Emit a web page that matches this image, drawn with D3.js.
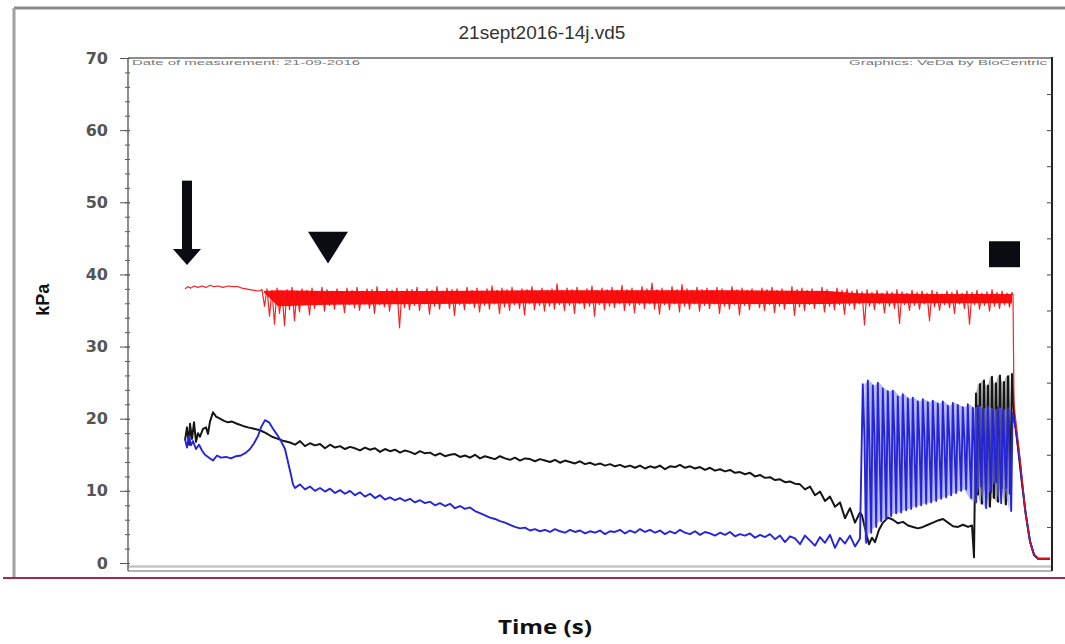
<!DOCTYPE html>
<html>
<head>
<meta charset="utf-8">
<script src="https://cdn.jsdelivr.net/npm/d3@7"></script>
<style>
  body { margin: 0; background: #fff; }
  svg { display: block; }
</style>
</head>
<body>
<div id="chart"></div>
<script>
// ---- data (time in s, pressure in kPa) ----
const chartTitle = '21sept2016-14j.vd5';
const noteLeft = 'Date of measurement: 21-09-2016';
const noteRight = 'Graphics: VeDa by BioCentric';
const yLabel = 'kPa';
const xLabel = 'Time (s)';
const yTicksMajor = [0, 10, 20, 30, 40, 50, 60, 70];

// red trace: quiet start, noisy plateau (sampled every 2.5 s), fall at the end
const redStart = [[57, 38.0], [60, 38.3], [63, 38.1], [66, 38.4], [70, 38.2], [74, 38.4], [78, 38.2], [82, 38.5],
  [86, 38.3], [90, 38.4], [95, 38.2], [100, 38.4], [105, 38.3], [110, 38.3], [114, 38.1], [118, 38.0],
  [122, 37.9], [126, 37.8], [130, 37.7], [133, 37.8]];
const redNoiseT0 = 134, redNoiseDt = 2.5;
const redNoise = [
  37.9, 35.6, 38.0, 34.2, 37.8, 33.1, 38.1, 34.6, 37.6, 32.9, 37.9, 35.1, 38.2, 33.6, 37.7, 34.8, 38.0, 35.9, 37.8, 34.4,
  38.1, 35.3, 37.6, 36.0, 38.2, 34.9, 37.9, 35.7, 37.7, 35.2, 38.0, 36.1, 37.5, 34.7, 38.1, 35.8, 37.8, 35.4, 38.2, 35.0,
  37.7, 35.9, 38.0, 35.3, 37.9, 34.6, 38.3, 35.8, 37.6, 35.5, 38.0, 34.9, 37.8, 36.0, 38.1, 32.6, 37.7, 35.4, 38.0, 35.1,
  37.9, 35.7, 38.2, 35.0, 37.6, 35.9, 38.0, 34.5, 37.8, 35.6, 38.3, 35.2, 37.7, 36.0, 38.1, 35.3, 37.9, 34.3, 38.0, 35.8,
  37.6, 35.1, 38.2, 35.9, 37.8, 35.4, 38.1, 34.8, 37.7, 35.7, 38.0, 35.2, 38.4, 35.9, 37.8, 34.6, 38.1, 35.5, 37.9, 35.0,
  38.2, 35.8, 37.7, 35.3, 38.0, 34.4, 37.9, 35.9, 38.3, 35.1, 37.6, 35.7, 38.1, 34.9, 37.8, 35.6, 38.0, 35.2, 38.7, 35.8,
  37.8, 35.0, 38.1, 35.7, 37.9, 34.6, 38.2, 35.9, 37.7, 35.3, 38.0, 35.6, 38.4, 34.2, 37.8, 35.8, 38.1, 35.1, 37.9, 35.6,
  38.2, 35.4, 37.8, 35.9, 38.5, 35.0, 37.9, 35.7, 38.1, 34.7, 37.7, 35.8, 38.3, 35.3, 38.0, 35.9, 38.8, 35.2, 37.9, 34.5,
  38.1, 35.8, 37.8, 35.1, 38.3, 35.9, 37.9, 34.8, 38.6, 35.6, 38.0, 35.2, 37.8, 35.9, 38.2, 34.9, 37.9, 35.7, 38.1, 35.3,
  37.8, 35.9, 38.2, 34.6, 38.0, 35.6, 37.7, 35.2, 38.3, 35.8, 37.9, 34.4, 38.1, 35.7, 37.8, 35.1, 38.0, 35.9, 37.7, 35.4,
  38.1, 35.0, 37.9, 35.8, 38.2, 34.7, 37.8, 35.6, 38.0, 35.2, 37.7, 35.9, 38.3, 34.3, 37.9, 35.5, 38.1, 35.0, 37.8, 35.8,
  38.0, 35.3, 37.7, 35.9, 38.2, 34.8, 37.9, 35.6, 37.6, 35.1, 38.1, 35.8, 37.8, 34.5, 38.0, 35.7, 37.7, 35.2, 37.9, 35.9,
  37.6, 33.0, 37.9, 35.6, 37.5, 35.1, 37.8, 35.9, 37.4, 34.7, 37.7, 35.6, 37.5, 35.3, 37.9, 33.2, 37.6, 35.8, 37.4, 35.0,
  37.8, 35.7, 37.5, 35.2, 37.7, 35.9, 37.4, 33.6, 37.8, 35.5, 37.6, 35.0, 37.3, 35.8, 37.7, 35.4, 37.5, 34.6, 37.8, 35.9,
  37.4, 35.3, 37.7, 33.1, 37.5, 35.8, 37.8, 35.2, 37.4, 35.7, 37.6, 34.9, 37.9, 35.6, 37.5, 35.3, 37.7, 35.8, 37.4, 35.5,
  37.5];
// dense core of the red noise band (where the trace is solid red)
const redBandTime = [136, 150, 200, 300, 400, 500, 600, 700, 730, 800, 884];
const redBandTop = [37.7, 37.8, 37.7, 37.7, 37.8, 37.8, 37.8, 37.7, 37.4, 37.3, 37.3];
const redBandBottom = [37.5, 35.6, 35.8, 35.9, 36.0, 36.0, 35.9, 35.9, 36.0, 36.0, 36.0];
const redTail = [[885, 37.2], [886, 22.0], [892, 14.5], [897, 7.5], [902, 3.0], [906, 1.2], [910, 0.6], [922, 0.6]];

// black trace
const blackStart = [[57, 17.0], [59, 18.8], [61, 16.4], [62, 19.3], [64, 17.2], [66, 19.5], [68, 16.8], [70, 18.0],
  [72, 17.5], [75, 18.6], [78, 18.8], [80, 17.9], [82, 19.6], [85, 20.9], [88, 20.3], [92, 20.0], [96, 19.7],
  [100, 19.5], [104, 19.6], [109, 19.3], [115, 19.0], [120, 18.8], [126, 18.6], [132, 18.4], [138, 18.0],
  [144, 17.5], [150, 17.2], [156, 16.9]];
const blackNoiseT0 = 162, blackNoiseDt = 5;
const blackNoise = [
  16.7, 16.4, 16.9, 16.2, 16.6, 16.3, 16.5, 15.9, 16.4, 16.0,
  16.2, 15.8, 16.1, 15.9, 15.6, 16.0, 15.7, 15.9, 15.4, 15.8,
  15.5, 15.7, 15.3, 15.6, 15.4, 15.1, 15.5, 15.2, 15.3, 14.9,
  15.2, 14.8, 15.0, 15.1, 14.7, 14.9, 14.6, 15.0, 14.5, 14.8,
  14.6, 14.4, 14.8, 14.5, 14.3, 14.6, 14.2, 14.5, 14.4, 14.1,
  14.4, 14.2, 14.0, 14.3, 13.9, 14.2, 14.0, 13.8, 14.1, 13.7,
  13.9, 13.6, 13.8, 13.5, 13.7, 13.4, 13.6, 13.3, 13.5, 13.2,
  13.5, 13.1, 13.4, 13.2, 13.5, 13.0, 13.4, 13.3, 13.6, 13.2,
  13.4, 13.1, 13.3, 12.9, 13.2, 12.8, 13.0, 12.7, 12.9, 12.5,
  12.6, 12.3, 12.5, 12.0, 12.2, 11.8, 11.9, 11.5, 11.6, 11.2,
  11.3, 11.0, 10.9, 10.2, 10.6, 9.4, 9.9, 8.6, 9.2, 7.8, 8.4, 6.2, 7.6, 5.6, 7.0];
const blackLate = [[734, 6.6], [738, 4.2], [741, 2.6], [744, 3.5], [747, 2.9], [751, 4.6], [755, 5.6], [760, 6.3],
  [765, 6.0], [770, 5.5], [775, 5.7], [780, 5.2], [785, 5.0], [790, 4.8], [795, 5.0], [800, 5.3], [805, 5.6],
  [810, 5.9], [815, 6.1], [820, 5.6], [825, 5.1], [830, 5.0], [835, 5.3], [840, 5.0], [844, 5.2], [846, 0.8]];
const blackOscT0 = 848, blackOscDt = 2;
const blackOsc = [23.5, 9.5, 24.8, 8.2, 25.3, 10.1, 24.6, 7.8, 25.8, 9.0, 24.9, 8.5, 26.0, 10.4, 25.1, 8.1, 25.9, 9.6, 26.2];
const blackTail = [[886, 20.5], [890, 16.0], [894, 11.0], [898, 6.5], [902, 3.0], [906, 1.1], [910, 0.6], [922, 0.6]];

// blue trace
const blueStart = [[57, 17.2], [59, 16.0], [61, 17.6], [63, 16.3], [65, 16.9], [68, 15.8], [71, 16.4], [74, 15.6],
  [77, 15.0], [81, 14.6], [85, 14.2], [89, 14.9], [93, 14.6], [98, 14.7], [103, 14.5], [108, 14.8], [113, 14.9],
  [118, 15.3], [122, 15.8], [126, 16.6], [130, 17.6], [133, 18.8], [137, 19.8], [141, 19.5], [145, 18.6],
  [149, 17.8], [153, 16.9], [157, 15.8], [160, 14.0], [163, 12.2], [165, 10.9]];
const blueNoiseT0 = 167, blueNoiseDt = 5;
const blueNoise = [
  10.4, 10.9, 10.2, 10.6, 10.0, 10.4, 9.9, 10.3, 9.7, 10.1,
  9.6, 10.0, 9.4, 9.8, 9.2, 9.6, 9.0, 9.4, 8.8, 9.1,
  8.7, 9.0, 8.6, 8.9, 8.4, 8.7, 8.3, 8.5, 8.0, 8.3,
  7.9, 8.2, 7.6, 7.9, 7.5, 7.7, 7.2, 6.9, 6.6, 6.3,
  6.1, 5.8, 5.6, 5.3, 5.0, 4.8, 4.9, 4.5, 4.7, 4.4,
  4.6, 4.3, 4.7, 4.4, 4.2, 4.6, 4.3, 4.5, 4.1, 4.4,
  4.2, 4.5, 4.0, 4.4, 4.3, 4.6, 4.1, 4.5, 4.2, 4.7,
  4.3, 4.6, 4.2, 4.5, 4.0, 4.4, 4.1, 4.6, 4.2, 4.0,
  4.4, 3.9, 4.3, 4.1, 3.8, 4.2, 3.9, 4.3, 3.7, 4.0,
  3.8, 4.1, 3.5, 3.9, 3.6, 4.0, 3.3, 3.8, 2.9, 3.7,
  3.4, 2.6, 3.8, 3.1, 2.4, 3.6, 2.8, 3.9, 2.1, 3.5,
  2.7, 3.8, 2.3, 3.4];
// pumping cycles: peak, plateau and trough of each beat
const blueCycleT0 = 734, blueCycleDt = 5;
const blueHigh = [24.8, 25.3, 24.6, 25.0, 24.2, 23.8, 23.9, 23.1, 23.4, 22.8, 22.9, 22.4, 22.7, 22.3, 22.5,
  22.1, 22.4, 21.8, 22.2, 21.9, 21.6, 22.0, 21.5, 21.8, 21.4, 21.7, 21.2, 21.6, 21.3, 21.5];
const blueMid = [17.5, 16.2, 18.0, 15.8, 17.2, 16.5, 17.8, 15.9, 16.8, 17.3, 15.6, 16.9, 17.6, 16.1, 17.0,
  15.7, 16.6, 17.4, 16.0, 16.8, 17.1, 15.9, 16.4, 17.2, 16.2, 15.8, 16.7, 17.0, 16.3, 16.9];
const blueLow = [2.8, 4.2, 5.0, 5.8, 6.1, 6.5, 6.9, 7.0, 7.3, 7.5, 7.8, 8.0, 8.2, 8.4, 8.6,
  8.9, 9.1, 9.4, 9.7, 10.0, 10.2, 9.0, 8.4, 10.6, 7.6, 9.8, 11.2, 8.3, 10.4, 7.2];
const blueTail = [[884.5, 20.8], [888, 18.5], [892, 14.0], [897, 7.5], [902, 3.0], [906, 1.2], [910, 0.6], [922, 0.6]];

// event markers: [time, kPa]
const arrowMark = { t: 59, top: 53, tip: 41.3 };
const triangleMark = { t: 200, top: 45.9, tip: 41.5 };
const squareMark = { t0: 861, t1: 892, top: 44.6, bottom: 41.0 };

// ---- build series ----
const sampled = (vals, t0, dt) => vals.map((v, i) => [t0 + i * dt, v]);
const redSeries = redStart.concat(sampled(redNoise, redNoiseT0, redNoiseDt), redTail);
const redBand = redBandTime.map((t, i) => ({ t, top: redBandTop[i], bottom: redBandBottom[i] }));
const blackOscPts = sampled(blackOsc, blackOscT0, blackOscDt);
const blackSeries = blackStart.concat(sampled(blackNoise, blackNoiseT0, blackNoiseDt), blackLate, blackOscPts, blackTail);
// swing range of the black beats (peak with the trough that follows)
const blackBand = blackOscPts.slice(0, -1).map((p, i) => ({
  t: p[0], top: Math.max(p[1], blackOscPts[i + 1][1]), bottom: Math.min(p[1], blackOscPts[i + 1][1]),
}));
const blueCycles = [];
blueHigh.forEach((h, i) => {
  const t = blueCycleT0 + i * blueCycleDt;
  blueCycles.push([t + 0.8, h], [t + 2.4, blueMid[i]], [t + 4.2, blueLow[i]]);
});
const blueBand = blueHigh.map((h, i) => ({ t: blueCycleT0 + i * blueCycleDt + 2.4, top: h, bottom: blueLow[i] }));
const blueSeries = blueStart.concat(sampled(blueNoise, blueNoiseT0, blueNoiseDt), blueCycles, blueTail);

// ---- layout ----
const width = 1065, height = 644;
const plot = { left: 128, right: 1052, top: 58, bottom: 571 };

const svg = d3.select('#chart').append('svg')
  .attr('width', width).attr('height', height)
  .style('font-family', '"Liberation Sans", Arial, sans-serif');

const x = d3.scaleLinear().domain([0, 924]).range([plot.left, plot.right]);
const y = d3.scaleLinear().domain([0, 70]).range([563, plot.top]);

// outer frame of the screenshot
svg.append('line').attr('x1', 14).attr('x2', width).attr('y1', 8).attr('y2', 8)
  .attr('stroke', '#8a8a8a').attr('stroke-width', 3);
svg.append('line').attr('x1', 14).attr('x2', 14).attr('y1', 8).attr('y2', 578)
  .attr('stroke', '#a0a0a0').attr('stroke-width', 3);

svg.append('text')
  .attr('x', 542).attr('y', 39)
  .attr('text-anchor', 'middle')
  .attr('font-size', 19).attr('fill', '#333')
  .text(chartTitle);

// plot box
svg.append('line').attr('x1', plot.left).attr('x2', plot.right).attr('y1', plot.top).attr('y2', plot.top)
  .attr('stroke', '#666').attr('stroke-width', 1.5);
svg.append('line').attr('x1', plot.left).attr('x2', plot.right).attr('y1', y(0) + 3.5).attr('y2', y(0) + 3.5)
  .attr('stroke', '#c4c4c4').attr('stroke-width', 2.5);
svg.append('line').attr('x1', plot.left).attr('x2', plot.right).attr('y1', plot.bottom).attr('y2', plot.bottom)
  .attr('stroke', '#999').attr('stroke-width', 1.5);
svg.append('line').attr('x1', plot.right).attr('x2', plot.right).attr('y1', plot.top - 1).attr('y2', plot.bottom)
  .attr('stroke', '#222').attr('stroke-width', 2);

svg.append('text')
  .attr('x', 132).attr('y', 65)
  .attr('font-size', 8).attr('fill', '#777')
  .attr('textLength', 228).attr('lengthAdjust', 'spacingAndGlyphs')
  .text(noteLeft);
svg.append('text')
  .attr('x', 849).attr('y', 65)
  .attr('font-size', 8).attr('fill', '#777')
  .attr('textLength', 198).attr('lengthAdjust', 'spacingAndGlyphs')
  .text(noteRight);

// left axis
const axisG = svg.append('g').attr('transform', `translate(${plot.left + 2},0)`);
axisG.append('g')
  .call(d3.axisLeft(y).tickValues(d3.range(0, 71, 2)).tickSize(5).tickFormat(''))
  .call(g => g.select('.domain').remove())
  .selectAll('line').attr('stroke', '#555');
axisG.append('g')
  .call(d3.axisLeft(y).tickValues(yTicksMajor).tickSize(10).tickPadding(12).tickFormat(d3.format('d')))
  .call(g => g.select('.domain').remove())
  .call(g => g.selectAll('line').attr('stroke', '#555'))
  .call(g => g.selectAll('text')
    .attr('font-family', '"DejaVu Sans", sans-serif')
    .attr('font-weight', 'bold').attr('font-size', 16).attr('fill', '#555'));
svg.append('line').attr('x1', plot.left).attr('x2', plot.left).attr('y1', plot.top).attr('y2', plot.bottom)
  .attr('stroke', '#666').attr('stroke-width', 1.5);

// right axis, ticks pointing inwards
svg.append('g').attr('transform', `translate(${plot.right},0)`)
  .call(d3.axisRight(y).tickValues(d3.range(5, 70, 5)).tickSize(-5).tickFormat(''))
  .call(g => g.select('.domain').remove())
  .selectAll('line').attr('stroke', '#444');

svg.append('text')
  .attr('transform', `translate(49,${y(36.5)}) rotate(-90)`)
  .attr('text-anchor', 'middle')
  .attr('font-size', 18).attr('font-weight', 'bold').attr('fill', '#111')
  .text(yLabel);

// traces
const line = d3.line().x(d => x(d[0])).y(d => y(d[1]));
const band = d3.area().x(d => x(d.t)).y0(d => y(d.bottom)).y1(d => y(d.top));
const traces = svg.append('g');
traces.append('path').datum(blackBand).attr('d', band)
  .attr('fill', '#555').attr('fill-opacity', 0.45);
traces.append('path').datum(blackSeries).attr('d', line)
  .attr('fill', 'none').attr('stroke', '#151515').attr('stroke-width', 2).attr('stroke-linejoin', 'round');
traces.append('path').datum(blueBand).attr('d', band)
  .attr('fill', '#7f7fea').attr('fill-opacity', 0.55);
traces.append('path').datum(blueSeries).attr('d', line)
  .attr('fill', 'none').attr('stroke', '#2424d8').attr('stroke-width', 1.9).attr('stroke-linejoin', 'round');
traces.append('path').datum(redBand).attr('d', band)
  .attr('fill', '#ff1010');
traces.append('path').datum(redSeries).attr('d', line)
  .attr('fill', 'none').attr('stroke', '#f20c0c').attr('stroke-width', 1.2).attr('stroke-opacity', 0.9)
  .attr('stroke-linejoin', 'round');

// event markers
const marks = svg.append('g').attr('fill', '#0b0b12');
marks.append('rect')
  .attr('x', x(arrowMark.t) - 5).attr('y', y(arrowMark.top))
  .attr('width', 10).attr('height', y(arrowMark.tip) - y(arrowMark.top) - 14);
marks.append('path')
  .attr('d', d3.line()([[x(arrowMark.t) - 14, y(arrowMark.tip) - 16], [x(arrowMark.t) + 14, y(arrowMark.tip) - 16],
    [x(arrowMark.t), y(arrowMark.tip)]]) + 'Z');
marks.append('path')
  .attr('d', d3.line()([[x(triangleMark.t) - 20, y(triangleMark.top)], [x(triangleMark.t) + 20, y(triangleMark.top)],
    [x(triangleMark.t), y(triangleMark.tip)]]) + 'Z');
marks.append('rect')
  .attr('x', x(squareMark.t0)).attr('y', y(squareMark.top))
  .attr('width', x(squareMark.t1) - x(squareMark.t0)).attr('height', y(squareMark.bottom) - y(squareMark.top));

// slide border and axis title below
svg.append('line').attr('x1', 3).attr('x2', width).attr('y1', 578).attr('y2', 578)
  .attr('stroke', '#9c2b4e').attr('stroke-width', 2);
svg.append('text')
  .attr('x', 545).attr('y', 634)
  .attr('text-anchor', 'middle')
  .attr('font-family', '"Open Sans", sans-serif')
  .attr('font-size', 20).attr('font-weight', 'bold').attr('fill', '#111')
  .attr('textLength', 94).attr('lengthAdjust', 'spacingAndGlyphs')
  .text(xLabel);
</script>
</body>
</html>
